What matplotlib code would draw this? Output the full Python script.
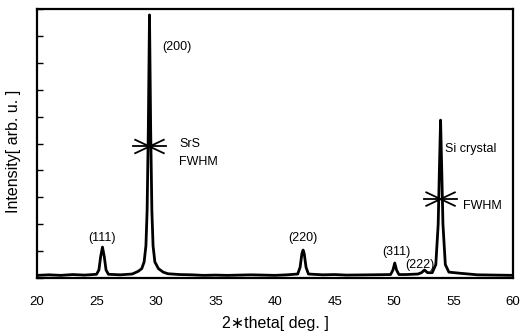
import matplotlib
matplotlib.use("Agg")
import matplotlib.pyplot as plt

plt.rcParams["font.family"] = ["Liberation Sans", "DejaVu Sans"]

# ── 데이터 ──
two_theta = [20.0, 21.0, 22.0, 23.0, 24.0, 25.0, 25.2, 25.35, 25.5, 25.65, 25.8, 26.0,
             27.0, 28.0, 28.5, 28.8, 29.0, 29.15, 29.25, 29.35, 29.45, 29.55, 29.65,
             29.75, 29.9, 30.2, 30.6, 31.0, 32.0, 33.0, 34.0, 35.0, 36.0, 38.0, 40.0,
             41.0, 41.9, 42.1, 42.25, 42.35, 42.45, 42.6, 42.8, 44.0, 45.0, 46.0, 48.0,
             49.7, 49.9, 50.05, 50.2, 50.4, 51.0, 52.0, 52.3, 52.55, 52.8, 53.2, 53.5,
             53.7, 53.8, 53.9, 54.0, 54.1, 54.3, 54.6, 55.5, 57.0, 58.5, 60.0]
intensity = [0.10, 0.12, 0.10, 0.13, 0.11, 0.14, 0.30, 0.80, 1.15, 0.80, 0.30, 0.14,
             0.12, 0.15, 0.25, 0.35, 0.60, 1.20, 2.50, 5.50, 9.78, 5.50, 2.50,
             1.20, 0.60, 0.35, 0.22, 0.16, 0.13, 0.12, 0.10, 0.11, 0.10, 0.12, 0.10,
             0.12, 0.15, 0.40, 0.90, 1.04, 0.90, 0.40, 0.15, 0.12, 0.13, 0.11, 0.12,
             0.13, 0.30, 0.56, 0.30, 0.13, 0.13, 0.15, 0.20, 0.30, 0.20, 0.20, 0.50,
             2.00, 4.00, 5.87, 4.00, 2.00, 0.50, 0.22, 0.18, 0.12, 0.11, 0.10]

# 피크 라벨 (라벨 중심 위치)
peak_labels = ["(111)", "(220)", "(311)", "(222)"]
label_x = [25.5, 42.3, 50.15, 52.2]
label_y = [1.5, 1.5, 0.97, 0.5]

# FWHM 표시할 피크 (SrS, Si)
fwhm_pos = [29.45, 53.9]
fwhm_height = [9.78, 5.87]

# ── 그리기 ──
fig = plt.figure(figsize=(5.21, 3.33), dpi=100, facecolor="white")
ax = fig.add_axes([0.071, 0.165, 0.914, 0.808])

ax.plot(two_theta, intensity, color="black", lw=2.0, solid_joinstyle="round")

ax.set_xlim(20, 60)
ax.set_ylim(0, 10)
ax.set_xticks(range(20, 61, 5))
ax.set_yticks(range(0, 11))
ax.set_yticklabels([])
ax.tick_params(axis="y", direction="in", length=4, width=1, right=False)
ax.tick_params(axis="x", direction="in", length=0, pad=13, labelsize=9.5)
for sp in ax.spines.values():
    sp.set_linewidth(1.6)

ax.set_xlabel("2\u2217theta[ deg. ]", fontsize=11.5, labelpad=6)
ax.set_ylabel("Intensity[ arb. u. ]", fontsize=11.5)
ax.yaxis.set_label_coords(-0.034, 0.47)

# 피크 라벨
for lab, x, y in zip(peak_labels, label_x, label_y):
    ax.text(x, y, lab, fontsize=9, ha="center", va="center")
ax.text(fwhm_pos[0] + 1.1, 8.6, "(200)", fontsize=9, ha="left", va="center")

# FWHM 화살표 (>|< 모양)
for x0, h in zip(fwhm_pos, fwhm_height):
    y0 = h / 2
    for s in (-1, 1):
        ax.plot([x0, x0 + s * 1.4], [y0, y0], color="black", lw=1.3)
        ax.plot([x0 + s * 1.2, x0], [y0 + 0.25, y0], color="black", lw=1.3)
        ax.plot([x0 + s * 1.2, x0], [y0 - 0.25, y0], color="black", lw=1.3)

ax.text(fwhm_pos[0] + 2.5, fwhm_height[0] / 2 + 0.08, "SrS", fontsize=9, ha="left", va="center")
ax.text(fwhm_pos[0] + 2.5, fwhm_height[0] / 2 - 0.57, "FWHM", fontsize=9, ha="left", va="center")
ax.text(fwhm_pos[1] + 0.4, 4.8, "Si crystal", fontsize=9, ha="left", va="center")
ax.text(fwhm_pos[1] + 1.9, fwhm_height[1] / 2 - 0.25, "FWHM", fontsize=9, ha="left", va="center")

fig.savefig("out.png", dpi=100, facecolor="white")
